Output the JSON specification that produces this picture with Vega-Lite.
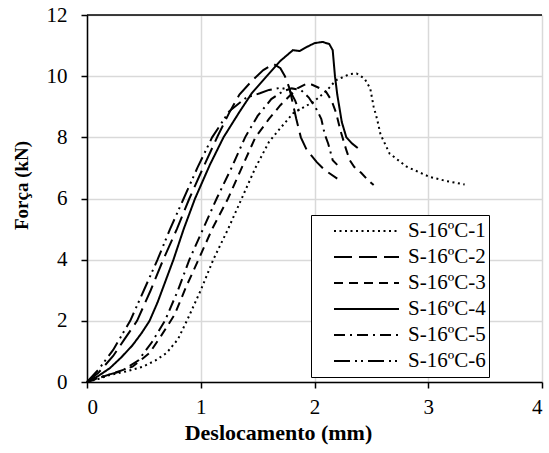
{
  "$schema": "https://vega.github.io/schema/vega-lite/v6.json",
  "width": 455,
  "height": 367,
  "autosize": {"type": "none"},
  "padding": {"left": 87, "top": 15, "right": 7, "bottom": 71},
  "background": "white",
  "config": {
    "view": {"stroke": null},
    "font": "Liberation Serif",
    "axis": {
      "labelFont": "Liberation Serif",
      "titleFont": "Liberation Serif",
      "labelFontSize": 21,
      "titleFontSize": 19,
      "titleFontWeight": "bold",
      "labelColor": "black",
      "titleColor": "black",
      "domainColor": "black",
      "domainWidth": 1.5,
      "tickColor": "black",
      "tickWidth": 1.5,
      "tickSize": 6,
      "gridColor": "#d9d9d9",
      "gridWidth": 1.5
    }
  },
  "layer": [
    {
      "data": {"values": [{"t": 12}]},
      "mark": {"type": "rule", "color": "black", "strokeWidth": 1.5},
      "encoding": {"y": {"field": "t", "type": "quantitative", "scale": {"domain": [0, 12]}}}
    },
    {
      "data": {
        "values": [
          {"s": "S-16ºC-1", "x": 0, "y": 0},
          {"s": "S-16ºC-1", "x": 0.1, "y": 0.1},
          {"s": "S-16ºC-1", "x": 0.2, "y": 0.23},
          {"s": "S-16ºC-1", "x": 0.35, "y": 0.35},
          {"s": "S-16ºC-1", "x": 0.49, "y": 0.5},
          {"s": "S-16ºC-1", "x": 0.6, "y": 0.7},
          {"s": "S-16ºC-1", "x": 0.7, "y": 0.95},
          {"s": "S-16ºC-1", "x": 0.8, "y": 1.4},
          {"s": "S-16ºC-1", "x": 0.89, "y": 2.1},
          {"s": "S-16ºC-1", "x": 1.0, "y": 3.0},
          {"s": "S-16ºC-1", "x": 1.11, "y": 4.0},
          {"s": "S-16ºC-1", "x": 1.24, "y": 5.0},
          {"s": "S-16ºC-1", "x": 1.36, "y": 6.0},
          {"s": "S-16ºC-1", "x": 1.48, "y": 7.0},
          {"s": "S-16ºC-1", "x": 1.6, "y": 7.85},
          {"s": "S-16ºC-1", "x": 1.7, "y": 8.3},
          {"s": "S-16ºC-1", "x": 1.81, "y": 8.78},
          {"s": "S-16ºC-1", "x": 1.99, "y": 9.16},
          {"s": "S-16ºC-1", "x": 2.1, "y": 9.5},
          {"s": "S-16ºC-1", "x": 2.19, "y": 9.87},
          {"s": "S-16ºC-1", "x": 2.31, "y": 10.07},
          {"s": "S-16ºC-1", "x": 2.37, "y": 10.09},
          {"s": "S-16ºC-1", "x": 2.44, "y": 9.92},
          {"s": "S-16ºC-1", "x": 2.49, "y": 9.6},
          {"s": "S-16ºC-1", "x": 2.52, "y": 9.0},
          {"s": "S-16ºC-1", "x": 2.55, "y": 8.6},
          {"s": "S-16ºC-1", "x": 2.58, "y": 8.1},
          {"s": "S-16ºC-1", "x": 2.66, "y": 7.47},
          {"s": "S-16ºC-1", "x": 2.81, "y": 7.04},
          {"s": "S-16ºC-1", "x": 3.01, "y": 6.71},
          {"s": "S-16ºC-1", "x": 3.16, "y": 6.57},
          {"s": "S-16ºC-1", "x": 3.32, "y": 6.46},

          {"s": "S-16ºC-2", "x": 0, "y": 0},
          {"s": "S-16ºC-2", "x": 0.1, "y": 0.3},
          {"s": "S-16ºC-2", "x": 0.23, "y": 0.85},
          {"s": "S-16ºC-2", "x": 0.33, "y": 1.4},
          {"s": "S-16ºC-2", "x": 0.44, "y": 2.0},
          {"s": "S-16ºC-2", "x": 0.56, "y": 3.0},
          {"s": "S-16ºC-2", "x": 0.67, "y": 4.0},
          {"s": "S-16ºC-2", "x": 0.79, "y": 5.0},
          {"s": "S-16ºC-2", "x": 0.9, "y": 6.0},
          {"s": "S-16ºC-2", "x": 1.02, "y": 7.0},
          {"s": "S-16ºC-2", "x": 1.15, "y": 8.05},
          {"s": "S-16ºC-2", "x": 1.25, "y": 8.8},
          {"s": "S-16ºC-2", "x": 1.34, "y": 9.4},
          {"s": "S-16ºC-2", "x": 1.45, "y": 9.85},
          {"s": "S-16ºC-2", "x": 1.55, "y": 10.2},
          {"s": "S-16ºC-2", "x": 1.64, "y": 10.4},
          {"s": "S-16ºC-2", "x": 1.7, "y": 10.26},
          {"s": "S-16ºC-2", "x": 1.74, "y": 10.0},
          {"s": "S-16ºC-2", "x": 1.78, "y": 9.6},
          {"s": "S-16ºC-2", "x": 1.81, "y": 9.1},
          {"s": "S-16ºC-2", "x": 1.84, "y": 8.6},
          {"s": "S-16ºC-2", "x": 1.88, "y": 8.0},
          {"s": "S-16ºC-2", "x": 1.93, "y": 7.6},
          {"s": "S-16ºC-2", "x": 2.02, "y": 7.19},
          {"s": "S-16ºC-2", "x": 2.09, "y": 6.93},
          {"s": "S-16ºC-2", "x": 2.2, "y": 6.65},

          {"s": "S-16ºC-3", "x": 0, "y": 0},
          {"s": "S-16ºC-3", "x": 0.2, "y": 0.25},
          {"s": "S-16ºC-3", "x": 0.4, "y": 0.5},
          {"s": "S-16ºC-3", "x": 0.55, "y": 0.95},
          {"s": "S-16ºC-3", "x": 0.65, "y": 1.5},
          {"s": "S-16ºC-3", "x": 0.77, "y": 2.2},
          {"s": "S-16ºC-3", "x": 0.87, "y": 3.1},
          {"s": "S-16ºC-3", "x": 0.98, "y": 4.0},
          {"s": "S-16ºC-3", "x": 1.1, "y": 5.0},
          {"s": "S-16ºC-3", "x": 1.24, "y": 6.0},
          {"s": "S-16ºC-3", "x": 1.36, "y": 7.0},
          {"s": "S-16ºC-3", "x": 1.48, "y": 8.0},
          {"s": "S-16ºC-3", "x": 1.6, "y": 8.6},
          {"s": "S-16ºC-3", "x": 1.7, "y": 9.05},
          {"s": "S-16ºC-3", "x": 1.78, "y": 9.35},
          {"s": "S-16ºC-3", "x": 1.85, "y": 9.6},
          {"s": "S-16ºC-3", "x": 1.93, "y": 9.75},
          {"s": "S-16ºC-3", "x": 1.98, "y": 9.72},
          {"s": "S-16ºC-3", "x": 2.05, "y": 9.6},
          {"s": "S-16ºC-3", "x": 2.1, "y": 9.5},
          {"s": "S-16ºC-3", "x": 2.15, "y": 9.2},
          {"s": "S-16ºC-3", "x": 2.19, "y": 8.8},
          {"s": "S-16ºC-3", "x": 2.23, "y": 8.2},
          {"s": "S-16ºC-3", "x": 2.28, "y": 7.58},
          {"s": "S-16ºC-3", "x": 2.31, "y": 7.25},
          {"s": "S-16ºC-3", "x": 2.35, "y": 7.03},
          {"s": "S-16ºC-3", "x": 2.41, "y": 6.84},
          {"s": "S-16ºC-3", "x": 2.47, "y": 6.6},
          {"s": "S-16ºC-3", "x": 2.52, "y": 6.44},

          {"s": "S-16ºC-4", "x": 0, "y": 0},
          {"s": "S-16ºC-4", "x": 0.1, "y": 0.2},
          {"s": "S-16ºC-4", "x": 0.2, "y": 0.45},
          {"s": "S-16ºC-4", "x": 0.3, "y": 0.8},
          {"s": "S-16ºC-4", "x": 0.4, "y": 1.2},
          {"s": "S-16ºC-4", "x": 0.48, "y": 1.6},
          {"s": "S-16ºC-4", "x": 0.55, "y": 2.0},
          {"s": "S-16ºC-4", "x": 0.62, "y": 2.6},
          {"s": "S-16ºC-4", "x": 0.69, "y": 3.3},
          {"s": "S-16ºC-4", "x": 0.76, "y": 4.0},
          {"s": "S-16ºC-4", "x": 0.85, "y": 5.0},
          {"s": "S-16ºC-4", "x": 0.95, "y": 6.0},
          {"s": "S-16ºC-4", "x": 1.08, "y": 7.1},
          {"s": "S-16ºC-4", "x": 1.2, "y": 8.0},
          {"s": "S-16ºC-4", "x": 1.34, "y": 8.83},
          {"s": "S-16ºC-4", "x": 1.45, "y": 9.45},
          {"s": "S-16ºC-4", "x": 1.58, "y": 10.0},
          {"s": "S-16ºC-4", "x": 1.7, "y": 10.5},
          {"s": "S-16ºC-4", "x": 1.81, "y": 10.85},
          {"s": "S-16ºC-4", "x": 1.87, "y": 10.82},
          {"s": "S-16ºC-4", "x": 1.93, "y": 10.95},
          {"s": "S-16ºC-4", "x": 2.0, "y": 11.08},
          {"s": "S-16ºC-4", "x": 2.07, "y": 11.12},
          {"s": "S-16ºC-4", "x": 2.13, "y": 11.05},
          {"s": "S-16ºC-4", "x": 2.16, "y": 10.85},
          {"s": "S-16ºC-4", "x": 2.18, "y": 10.0},
          {"s": "S-16ºC-4", "x": 2.2, "y": 9.4},
          {"s": "S-16ºC-4", "x": 2.24, "y": 8.5},
          {"s": "S-16ºC-4", "x": 2.28, "y": 8.0},
          {"s": "S-16ºC-4", "x": 2.33, "y": 7.8},
          {"s": "S-16ºC-4", "x": 2.38, "y": 7.65},

          {"s": "S-16ºC-5", "x": 0, "y": 0},
          {"s": "S-16ºC-5", "x": 0.15, "y": 0.2},
          {"s": "S-16ºC-5", "x": 0.3, "y": 0.35},
          {"s": "S-16ºC-5", "x": 0.45, "y": 0.7},
          {"s": "S-16ºC-5", "x": 0.57, "y": 1.3},
          {"s": "S-16ºC-5", "x": 0.685, "y": 2.0},
          {"s": "S-16ºC-5", "x": 0.8, "y": 3.0},
          {"s": "S-16ºC-5", "x": 0.9, "y": 4.0},
          {"s": "S-16ºC-5", "x": 1.02, "y": 5.0},
          {"s": "S-16ºC-5", "x": 1.14, "y": 6.0},
          {"s": "S-16ºC-5", "x": 1.27, "y": 7.0},
          {"s": "S-16ºC-5", "x": 1.39, "y": 8.0},
          {"s": "S-16ºC-5", "x": 1.5, "y": 8.7},
          {"s": "S-16ºC-5", "x": 1.62, "y": 9.25},
          {"s": "S-16ºC-5", "x": 1.72, "y": 9.5},
          {"s": "S-16ºC-5", "x": 1.8, "y": 9.6},
          {"s": "S-16ºC-5", "x": 1.88, "y": 9.55},
          {"s": "S-16ºC-5", "x": 1.95, "y": 9.3},
          {"s": "S-16ºC-5", "x": 2.02, "y": 8.9},
          {"s": "S-16ºC-5", "x": 2.06, "y": 8.6},
          {"s": "S-16ºC-5", "x": 2.09, "y": 8.1},
          {"s": "S-16ºC-5", "x": 2.12, "y": 7.8},
          {"s": "S-16ºC-5", "x": 2.16, "y": 7.25},
          {"s": "S-16ºC-5", "x": 2.2, "y": 7.1},

          {"s": "S-16ºC-6", "x": 0, "y": 0},
          {"s": "S-16ºC-6", "x": 0.1, "y": 0.4},
          {"s": "S-16ºC-6", "x": 0.23, "y": 1.05},
          {"s": "S-16ºC-6", "x": 0.38, "y": 2.0},
          {"s": "S-16ºC-6", "x": 0.5, "y": 3.0},
          {"s": "S-16ºC-6", "x": 0.62, "y": 4.0},
          {"s": "S-16ºC-6", "x": 0.73, "y": 5.0},
          {"s": "S-16ºC-6", "x": 0.85, "y": 6.0},
          {"s": "S-16ºC-6", "x": 0.97, "y": 7.0},
          {"s": "S-16ºC-6", "x": 1.1, "y": 8.0},
          {"s": "S-16ºC-6", "x": 1.25, "y": 8.85},
          {"s": "S-16ºC-6", "x": 1.4, "y": 9.3},
          {"s": "S-16ºC-6", "x": 1.52, "y": 9.44},
          {"s": "S-16ºC-6", "x": 1.6, "y": 9.55},
          {"s": "S-16ºC-6", "x": 1.7, "y": 9.62},
          {"s": "S-16ºC-6", "x": 1.78, "y": 9.55},
          {"s": "S-16ºC-6", "x": 1.83, "y": 9.2},
          {"s": "S-16ºC-6", "x": 1.87, "y": 8.8}
        ]
      },
      "mark": {"type": "line", "color": "black", "strokeWidth": 2},
      "encoding": {
        "x": {
          "field": "x", "type": "quantitative",
          "scale": {"domain": [0, 4], "nice": false},
          "axis": {"values": [0, 1, 2, 3, 4], "title": "Deslocamento (mm)", "labelFont": "Liberation Serif", "titleFont": "Liberation Serif", "titleFontSize": 22, "titlePadding": 5, "labelPadding": 8, "titleX": 191}
        },
        "y": {
          "field": "y", "type": "quantitative",
          "scale": {"domain": [0, 12], "nice": false},
          "axis": {"values": [0, 2, 4, 6, 8, 10, 12], "title": "Força (kN)", "labelFont": "Liberation Serif", "titleFont": "Liberation Serif", "titlePadding": 15, "labelPadding": 14, "titleY": 170}
        },
        "strokeDash": {
          "field": "s", "type": "nominal",
          "scale": {
            "domain": ["S-16ºC-1", "S-16ºC-2", "S-16ºC-3", "S-16ºC-4", "S-16ºC-5", "S-16ºC-6"],
            "range": [[2, 3.5], [18, 7], [9, 6], [1, 0], [11, 5, 2, 5], [16, 5, 2, 4, 2, 5]]
          },
          "legend": {
            "title": null,
            "orient": "none",
            "legendX": 224,
            "legendY": 200,
            "direction": "vertical",
            "symbolType": "stroke",
            "symbolSize": 4225,
            "symbolStrokeWidth": 2,
            "symbolStrokeColor": "black",
            "symbolOffset": 19,
            "clipHeight": 26,
            "rowPadding": 0,
            "labelFont": "Liberation Serif",
            "labelFontSize": 21,
            "labelColor": "black",
            "labelOffset": 8,
            "padding": 3,
            "strokeColor": "black",
            "fillColor": "white"
          }
        }
      }
    }
  ]
}
